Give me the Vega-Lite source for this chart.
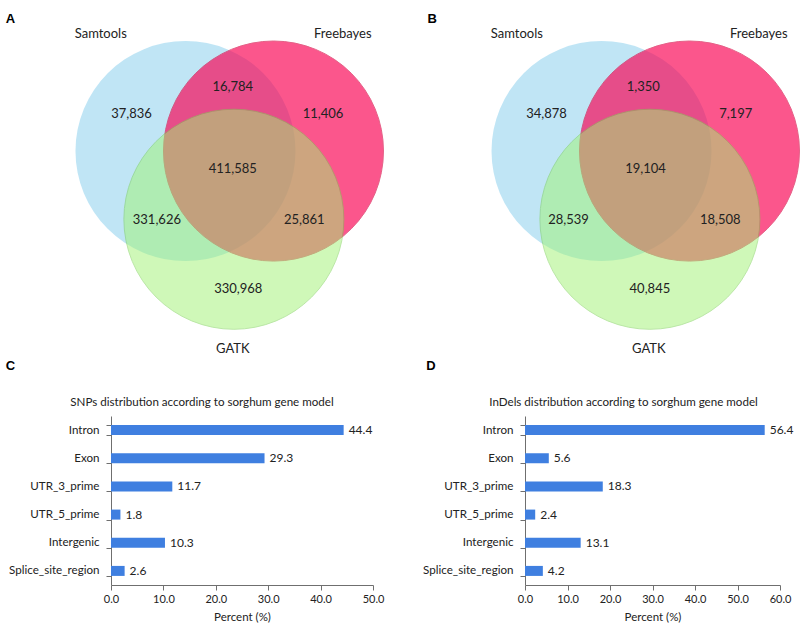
{
  "$schema": "https://vega.github.io/schema/vega-lite/v6.json",
  "background": "white",
  "padding": {"left": 5, "top": 0, "right": 0, "bottom": 0},
  "spacing": 19,
  "config": {
    "font": "Lato",
    "view": {"stroke": "transparent"},
    "axis": {"labelFontSize": 11, "labelColor": "#222", "domainColor": "#6f6f6f", "tickColor": "#6f6f6f", "titleFontSize": 11.5, "titleFontWeight": "normal", "titleColor": "#222", "grid": false},
    "title": {"fontSize": 11.6, "fontWeight": "normal", "color": "#222", "offset": 1}
  },
  "datasets": {
    "circles": [
      {"set": "Samtools", "cx": -0.4, "cy": 0},
      {"set": "Freebayes", "cx": 0.4, "cy": 0},
      {"set": "GATK", "cx": 0.04, "cy": -0.62}
    ],
    "setLabels": [
      {"set": "Samtools", "lx": -1.17, "ly": 1.06},
      {"set": "Freebayes", "lx": 1.03, "ly": 1.06},
      {"set": "GATK", "lx": 0.03, "ly": -1.8}
    ],
    "snpCounts": [
      {"region": "Samtools only", "n": 37836, "lx": -0.89, "ly": 0.34},
      {"region": "Samtools & Freebayes", "n": 16784, "lx": 0.03, "ly": 0.58},
      {"region": "Freebayes only", "n": 11406, "lx": 0.85, "ly": 0.34},
      {"region": "All three", "n": 411585, "lx": 0.03, "ly": -0.16},
      {"region": "Samtools & GATK", "n": 331626, "lx": -0.66, "ly": -0.63},
      {"region": "Freebayes & GATK", "n": 25861, "lx": 0.68, "ly": -0.63},
      {"region": "GATK only", "n": 330968, "lx": 0.08, "ly": -1.25}
    ],
    "indelCounts": [
      {"region": "Samtools only", "n": 34878, "lx": -0.9, "ly": 0.34},
      {"region": "Samtools & Freebayes", "n": 1350, "lx": -0.02, "ly": 0.58},
      {"region": "Freebayes only", "n": 7197, "lx": 0.82, "ly": 0.34},
      {"region": "All three", "n": 19104, "lx": 0.0, "ly": -0.16},
      {"region": "Samtools & GATK", "n": 28539, "lx": -0.7, "ly": -0.63},
      {"region": "Freebayes & GATK", "n": 18508, "lx": 0.68, "ly": -0.63},
      {"region": "GATK only", "n": 40845, "lx": 0.04, "ly": -1.25}
    ],
    "lettersLeft": [
      {"label": "A", "lx": -1.991, "ly": 1.2},
      {"label": "C", "lx": -1.991, "ly": -1.955}
    ],
    "lettersRight": [
      {"label": "B", "lx": -1.94, "ly": 1.2},
      {"label": "D", "lx": -1.95, "ly": -1.955}
    ],
    "snpDist": [
      {"category": "Intron", "pct": 44.4},
      {"category": "Exon", "pct": 29.3},
      {"category": "UTR_3_prime", "pct": 11.7},
      {"category": "UTR_5_prime", "pct": 1.8},
      {"category": "Intergenic", "pct": 10.3},
      {"category": "Splice_site_region", "pct": 2.6}
    ],
    "indelDist": [
      {"category": "Intron", "pct": 56.4},
      {"category": "Exon", "pct": 5.6},
      {"category": "UTR_3_prime", "pct": 18.3},
      {"category": "UTR_5_prime", "pct": 2.4},
      {"category": "Intergenic", "pct": 13.1},
      {"category": "Splice_site_region", "pct": 4.2}
    ]
  },
  "vconcat": [
    {
      "spacing": 0,
      "hconcat": [
        {
          "width": 290,
          "height": 375,
          "encoding": {
            "x": {"field": "cx", "type": "quantitative", "scale": {"domain": [-1.077, 1.559], "nice": false, "zero": false}, "axis": null},
            "y": {"field": "cy", "type": "quantitative", "scale": {"domain": [-2.045, 1.364], "nice": false, "zero": false}, "axis": null}
          },
          "layer": [
            {
              "data": {"name": "circles"},
              "transform": [{"filter": "datum.set === 'Samtools'"}],
              "mark": {"type": "point", "shape": "circle", "filled": true, "size": 48400, "color": "#87ceeb", "opacity": 0.52, "clip": false}
            },
            {
              "data": {"name": "circles"},
              "transform": [{"filter": "datum.set === 'Freebayes'"}],
              "mark": {"type": "point", "shape": "circle", "filled": true, "size": 48400, "color": "#fa0052", "opacity": 0.66, "stroke": "#d8104a", "strokeWidth": 1, "clip": false}
            },
            {
              "data": {"name": "circles"},
              "transform": [{"filter": "datum.set === 'GATK'"}],
              "mark": {"type": "point", "shape": "circle", "filled": true, "size": 48400, "color": "#a0f373", "opacity": 0.5, "stroke": "#78d050", "strokeWidth": 1, "clip": false}
            },
            {
              "data": {"name": "snpCounts"},
              "mark": {"type": "text", "fontSize": 13, "color": "#222", "baseline": "middle", "clip": false},
              "encoding": {
                "x": {"field": "lx", "type": "quantitative"},
                "y": {"field": "ly", "type": "quantitative"},
                "text": {"field": "n", "type": "quantitative", "format": ",.0f"}
              }
            },
            {
              "data": {"name": "setLabels"},
              "mark": {"type": "text", "fontSize": 13, "color": "#222", "baseline": "middle", "clip": false},
              "encoding": {
                "x": {"field": "lx", "type": "quantitative"},
                "y": {"field": "ly", "type": "quantitative"},
                "text": {"field": "set", "type": "nominal"}
              }
            },
            {
              "data": {"name": "lettersLeft"},
              "mark": {"type": "text", "fontSize": 13, "font": "Liberation Sans", "fontWeight": "bold", "color": "#000", "baseline": "middle", "clip": false},
              "encoding": {
                "x": {"field": "lx", "type": "quantitative"},
                "y": {"field": "ly", "type": "quantitative"},
                "text": {"field": "label", "type": "nominal"}
              }
            }
          ]
        },
        {
          "width": 400,
          "height": 375,
          "encoding": {
            "x": {"field": "cx", "type": "quantitative", "scale": {"domain": [-2.205, 1.432], "nice": false, "zero": false}, "axis": null},
            "y": {"field": "cy", "type": "quantitative", "scale": {"domain": [-2.045, 1.364], "nice": false, "zero": false}, "axis": null}
          },
          "layer": [
            {
              "data": {"name": "circles"},
              "transform": [{"filter": "datum.set === 'Samtools'"}],
              "mark": {"type": "point", "shape": "circle", "filled": true, "size": 48400, "color": "#87ceeb", "opacity": 0.52}
            },
            {
              "data": {"name": "circles"},
              "transform": [{"filter": "datum.set === 'Freebayes'"}],
              "mark": {"type": "point", "shape": "circle", "filled": true, "size": 48400, "color": "#fa0052", "opacity": 0.66, "stroke": "#d8104a", "strokeWidth": 1}
            },
            {
              "data": {"name": "circles"},
              "transform": [{"filter": "datum.set === 'GATK'"}],
              "mark": {"type": "point", "shape": "circle", "filled": true, "size": 48400, "color": "#a0f373", "opacity": 0.5, "stroke": "#78d050", "strokeWidth": 1}
            },
            {
              "data": {"name": "indelCounts"},
              "mark": {"type": "text", "fontSize": 13, "color": "#222", "baseline": "middle"},
              "encoding": {
                "x": {"field": "lx", "type": "quantitative"},
                "y": {"field": "ly", "type": "quantitative"},
                "text": {"field": "n", "type": "quantitative", "format": ",.0f"}
              }
            },
            {
              "data": {"name": "setLabels"},
              "mark": {"type": "text", "fontSize": 13, "color": "#222", "baseline": "middle"},
              "encoding": {
                "x": {"field": "lx", "type": "quantitative"},
                "y": {"field": "ly", "type": "quantitative"},
                "text": {"field": "set", "type": "nominal"}
              }
            },
            {
              "data": {"name": "lettersRight"},
              "mark": {"type": "text", "fontSize": 13, "font": "Liberation Sans", "fontWeight": "bold", "color": "#000", "baseline": "middle"},
              "encoding": {
                "x": {"field": "lx", "type": "quantitative"},
                "y": {"field": "ly", "type": "quantitative"},
                "text": {"field": "label", "type": "nominal"}
              }
            }
          ]
        }
      ]
    },
    {
      "spacing": 37,
      "hconcat": [
        {
          "width": 262,
          "height": 169,
          "title": {"text": "SNPs distribution according to sorghum gene model", "dx": -40},
          "data": {"name": "snpDist"},
          "encoding": {
            "y": {"field": "category", "type": "nominal", "sort": null, "scale": {"paddingInner": 0.645, "paddingOuter": 0.3225}, "axis": {"title": null, "tickBand": "extent", "tickSize": 5, "labelPadding": 7, "labelFontSize": 11.6}}
          },
          "layer": [
            {
              "mark": {"type": "bar", "color": "#3f7fe0"},
              "encoding": {
                "x": {"field": "pct", "type": "quantitative", "scale": {"domain": [0, 50], "nice": false}, "axis": {"values": [0, 10, 20, 30, 40, 50], "format": ".1f", "labelFlush": false, "title": "Percent (%)", "tickSize": 5, "labelPadding": 3, "titlePadding": 7}}
              }
            },
            {
              "mark": {"type": "text", "align": "left", "dx": 5, "fontSize": 12, "color": "#222"},
              "encoding": {
                "x": {"field": "pct", "type": "quantitative"},
                "text": {"field": "pct", "type": "quantitative", "format": ".1f"}
              }
            }
          ]
        },
        {
          "width": 255,
          "height": 169,
          "title": {"text": "InDels distribution according to sorghum gene model", "dx": -29},
          "data": {"name": "indelDist"},
          "encoding": {
            "y": {"field": "category", "type": "nominal", "sort": null, "scale": {"paddingInner": 0.645, "paddingOuter": 0.3225}, "axis": {"title": null, "tickBand": "extent", "tickSize": 5, "labelPadding": 7, "labelFontSize": 11.6}}
          },
          "layer": [
            {
              "mark": {"type": "bar", "color": "#3f7fe0"},
              "encoding": {
                "x": {"field": "pct", "type": "quantitative", "scale": {"domain": [0, 60], "nice": false}, "axis": {"values": [0, 10, 20, 30, 40, 50, 60], "format": ".1f", "labelFlush": false, "title": "Percent (%)", "tickSize": 5, "labelPadding": 3, "titlePadding": 7}}
              }
            },
            {
              "mark": {"type": "text", "align": "left", "dx": 5, "fontSize": 12, "color": "#222"},
              "encoding": {
                "x": {"field": "pct", "type": "quantitative"},
                "text": {"field": "pct", "type": "quantitative", "format": ".1f"}
              }
            }
          ]
        }
      ]
    }
  ]
}
